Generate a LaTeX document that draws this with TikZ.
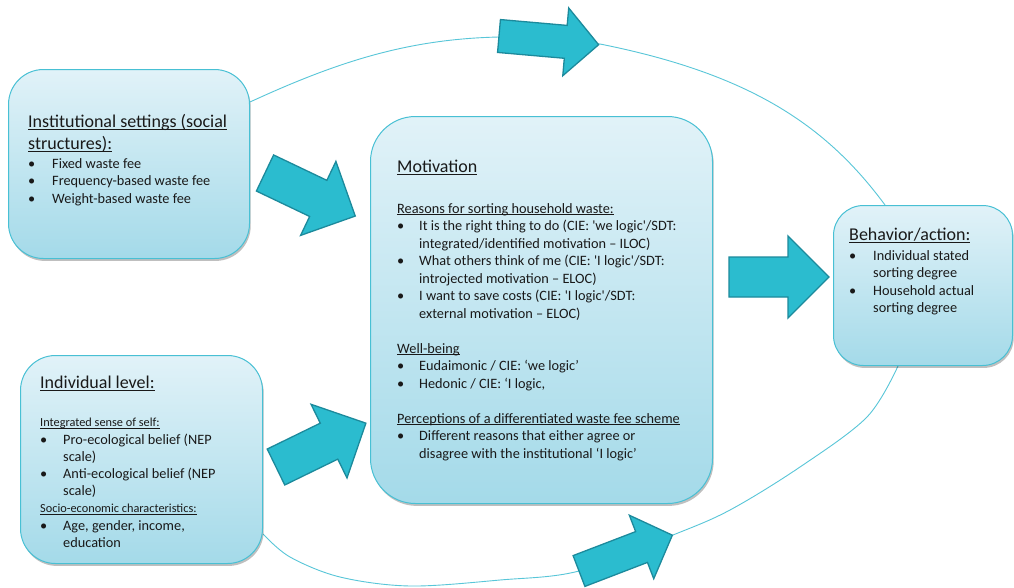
\documentclass[tikz,border=0pt]{standalone}
\usepackage{fontspec}
\setmainfont{Carlito}
\usetikzlibrary{shadows,backgrounds}
\definecolor{boxtop}{RGB}{225,242,248}
\definecolor{boxbot}{RGB}{164,218,233}
\definecolor{boxline}{RGB}{72,192,212}
\definecolor{arrfill}{RGB}{43,188,207}
\definecolor{arrline}{RGB}{28,138,156}
\definecolor{ringc}{RGB}{88,198,216}
\definecolor{txt}{RGB}{25,25,25}
\newlength\ulwd
\newcommand\ulx[1]{\settowidth\ulwd{#1}\rlap{\rule[-0.14em]{\ulwd}{0.075em}}#1}
\newcommand\bul[1][22pt]{\makebox[#1][l]{\textbullet}}
\newcommand\smallf{\fontsize{12.3}{17.2}\selectfont}
\tikzset{
  panel/.style={draw=boxline, line width=1pt, top color=boxtop, bottom color=boxbot,
    rounded corners=#1, anchor=north west, inner sep=0pt,
    drop shadow={shadow xshift=1.2pt, shadow yshift=-2.4pt, opacity=0.25, fill=black}},
  body/.style={anchor=north west, inner sep=0pt, align=left, text=txt,
    font=\fontsize{14.3}{17.5}\selectfont},
  ttl/.style={anchor=base west, inner sep=0pt, text=txt, font=\fontsize{18}{22}\selectfont},
  ttltwo/.style={anchor=north west, inner sep=0pt, align=left, text=txt, font=\fontsize{18}{22}\selectfont},
  arrowbody/.style={fill=arrfill, draw=arrline, line width=1.3pt, line join=miter},
  ringline/.style={draw=ringc, line width=0.9pt},
  blockarrow/.pic={\draw[arrowbody] (0,20) -- (59,20) -- (59,41) -- (100,0) -- (59,-41) -- (59,-20) -- (0,-20) -- cycle;},
  thinarrow/.pic={\draw[arrowbody] (0,16.5) -- (67,16.5) -- (67,34) -- (100,0) -- (67,-34) -- (67,-16.5) -- (0,-16.5) -- cycle;}
}
\begin{document}
\begin{tikzpicture}[x=1pt, y=-1pt]
\useasboundingbox (0,0) rectangle (1014,587);

% boxes
\node[panel=35pt, minimum width=241pt, minimum height=189pt] (inst) at (8,69) {};
\node[panel=45pt, minimum width=342pt, minimum height=387pt] (mot) at (370,116) {};
\node[panel=35pt, minimum width=242pt, minimum height=208pt] (indiv) at (20,355) {};
\node[panel=30pt, minimum width=179pt, minimum height=160pt] (beh) at (833,205) {};

% ring connecting the boxes
\begin{pgfonlayer}{background}
\fill[white] (0,0) rectangle (1014,587);
\coordinate (ringtopa) at (499,37);
\coordinate (ringtopb) at (600,44);
\draw[ringline] ([yshift=-33pt]inst.north east) .. controls (339,61) and (409,39) .. (ringtopa) -- (ringtopb) .. controls (750,74) and (826,125) .. ([xshift=52pt]beh.north west);
\draw[ringline] plot[smooth, tension=0.55] coordinates {([yshift=30pt]indiv.south east) (290,557) (340,577) (410,586) (500,580) (579,571) (673,535) (730,510) (800,467) (867,417) ([xshift=65pt]beh.south west)};
\end{pgfonlayer}

% block arrows
\pic[rotate=-5] at (499,36) {thinarrow};
\pic[rotate=-25.5] at (265,173) {blockarrow};
\pic[rotate=26] at (276,467) {blockarrow};
\pic[rotate=21] at (579,571) {thinarrow};
\pic at (729,277) {blockarrow};

% institutional
\node[ttltwo] (insttitle) at (28,112) {\strut\ulx{Institutional settings (social}\\\ulx{structures):}};
\node[body] (instbody) at (28,156) {\strut\bul[24pt]Fixed waste fee\\\bul[24pt]Frequency-based waste fee\\\bul[24pt]Weight-based waste fee};

% motivation
\node[ttl] (mottitle) at (397,172.4) {\ulx{Motivation}};
\node[body] (motbody) at (397,201) {\strut\ulx{Reasons for sorting household waste:}\\
\bul It is the right thing to do (CIE: \textquotesingle we logic\textquotesingle/SDT:\\
\hspace*{22pt}integrated/identified motivation – ILOC)\\
\bul What others think of me (CIE: \textquotesingle I logic\textquotesingle/SDT:\\
\hspace*{22pt}introjected motivation – ELOC)\\
\bul I want to save costs (CIE: \textquotesingle I logic\textquotesingle/SDT:\\
\hspace*{22pt}external motivation – ELOC)\\[17.5pt]
\ulx{Well-being}\\
\bul Eudaimonic / CIE: ‘we logic’\\
\bul Hedonic / CIE: ‘I logic,\\[17.5pt]
\ulx{Perceptions of a differentiated waste fee scheme}\\
\bul Different reasons that either agree or\\
\hspace*{22pt}disagree with the institutional ‘I logic’};

% individual
\node[ttl] (indtitle) at (40,388.4) {\ulx{Individual level:}};
\node[body, font=\fontsize{14.3}{17.2}\selectfont] (indbody) at (40,414.7) {\strut{\smallf\ulx{Integrated sense of self:}}\\
\bul[23pt]Pro-ecological belief (NEP\\
\hspace*{23pt}scale)\\
\bul[23pt]Anti-ecological belief (NEP\\
\hspace*{23pt}scale)\\
{\smallf\ulx{Socio-economic characteristics:}}\\
\bul[23pt]Age, gender, income,\\
\hspace*{23pt}education};

% behavior
\node[ttl] (behtitle) at (849,240.4) {\ulx{Behavior/action:}};
\node[body, font=\fontsize{14.3}{17.3}\selectfont] (behbody) at (849,248.2) {\strut\bul[24pt]Individual stated\\\hspace*{24pt}sorting degree\\\bul[24pt]Household actual\\\hspace*{24pt}sorting degree};
\end{tikzpicture}
\end{document}
